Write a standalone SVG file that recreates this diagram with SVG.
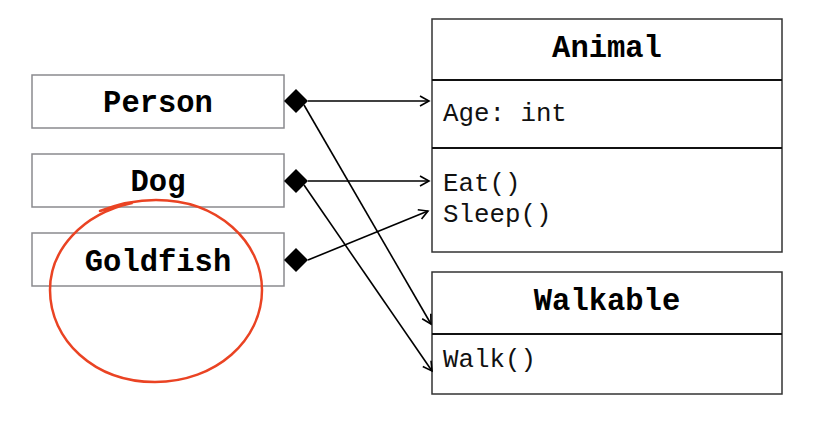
<svg xmlns="http://www.w3.org/2000/svg" width="813" height="441" viewBox="0 0 813 441">
<style>
.lbox{fill:#fff;stroke:#8a8a8e;stroke-width:1.5}
.cbox{fill:#fff;stroke:#333;stroke-width:1.5}
.div{stroke:#111;stroke-width:2}
.title{font-family:"Liberation Mono",monospace;font-weight:bold;font-size:30.5px;fill:#000;text-anchor:middle}
.mem{font-family:"Liberation Mono",monospace;font-size:25.8px;fill:#111}
.con{stroke:#000;stroke-width:1.6;fill:none;marker-end:url(#arr)}
.dia{fill:#000}
</style>
<defs>
<marker id="arr" markerWidth="12" markerHeight="12" refX="10" refY="6" orient="auto" markerUnits="userSpaceOnUse">
<path d="M1,1 L10,6 L1,11" fill="none" stroke="#000" stroke-width="1.6"/>
</marker>
</defs>
<rect width="813" height="441" fill="#fff"/>
<g id="person"><rect class="lbox" x="32" y="75" width="252" height="53"/><text class="title" x="158" y="112">Person</text></g>
<g id="dog"><rect class="lbox" x="32" y="154" width="252" height="53"/><text class="title" x="158" y="191">Dog</text></g>
<g id="goldfish"><rect class="lbox" x="32" y="233" width="252" height="53"/><text class="title" x="158" y="271">Goldfish</text></g>
<g id="animal"><rect class="cbox" x="432" y="19" width="350" height="233"/>
<line class="div" x1="432" y1="80" x2="782" y2="80"/><line class="div" x1="432" y1="148" x2="782" y2="148"/>
<text class="title" x="607" y="57">Animal</text>
<text class="mem" x="443" y="121">Age: int</text>
<text class="mem" x="443" y="191">Eat()</text>
<text class="mem" x="443" y="222">Sleep()</text></g>
<g id="walkable"><rect class="cbox" x="432" y="272" width="350" height="122"/>
<line class="div" x1="432" y1="334" x2="782" y2="334"/>
<text class="title" x="607" y="310">Walkable</text>
<text class="mem" x="443" y="367">Walk()</text></g>
<g id="connectors">
<path class="dia" d="M284,101 L296,89 L308,101 L296,113 Z"/>
<path class="dia" d="M284,181 L296,169 L308,181 L296,193 Z"/>
<path class="dia" d="M284,260 L296,248 L308,260 L296,272 Z"/>
<line class="con" x1="308" y1="101" x2="429" y2="101"/>
<line class="con" x1="304" y1="105" x2="431" y2="324"/>
<line class="con" x1="308" y1="181" x2="429" y2="181"/>
<line class="con" x1="304" y1="185" x2="432" y2="371"/>
<line class="con" x1="308" y1="260" x2="428" y2="211"/>
</g>
<path d="M100,211 Q128,200 156,200 C218,200 262,242 262,290 C262,340 216,382 155,382 C94,382 50,340 50,290 C50,250 82,214 132,203" fill="none" stroke="#ea4323" stroke-width="2.5" stroke-linecap="round"/>
</svg>
